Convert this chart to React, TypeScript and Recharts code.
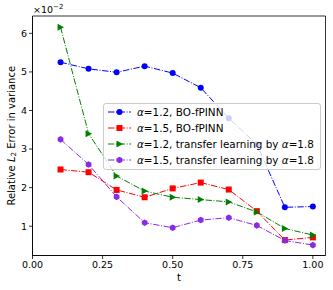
import { Label, Legend, Line, LineChart, ReferenceArea, XAxis, YAxis } from "recharts";

const FONT = "'DejaVu Sans', sans-serif";

const tValues = [0.1, 0.2, 0.3, 0.4, 0.5, 0.6, 0.7, 0.8, 0.9, 1.0];
const boAlpha12 = [5.25, 5.08, 4.99, 5.15, 4.97, 4.59, 3.8, 3.12, 1.49, 1.51];
const boAlpha15 = [2.47, 2.4, 1.94, 1.75, 1.98, 2.13, 1.95, 1.39, 0.64, 0.71];
const tlAlpha12 = [6.16, 3.4, 2.3, 1.91, 1.75, 1.69, 1.63, 1.37, 0.94, 0.77];
const tlAlpha15 = [3.25, 2.6, 1.76, 1.09, 0.96, 1.16, 1.22, 1.02, 0.63, 0.51];

const xTicks = [0, 0.25, 0.5, 0.75, 1.0];
const yTicks = [1, 2, 3, 4, 5, 6];

type Marker = "circle" | "square" | "triangle" | "hexagon";

const series: { key: string; color: string; marker: Marker; alpha: string; method: string }[] = [
  { key: "boAlpha12", color: "#0000ff", marker: "circle", alpha: "1.2", method: "BO-fPINN" },
  { key: "boAlpha15", color: "#ff0000", marker: "square", alpha: "1.5", method: "BO-fPINN" },
  { key: "tlAlpha12", color: "#008000", marker: "triangle", alpha: "1.2", method: "transfer learning by " },
  { key: "tlAlpha15", color: "#8a2be2", marker: "hexagon", alpha: "1.5", method: "transfer learning by " },
];

const data = tValues.map((t, i) => ({
  t,
  boAlpha12: boAlpha12[i],
  boAlpha15: boAlpha15[i],
  tlAlpha12: tlAlpha12[i],
  tlAlpha15: tlAlpha15[i],
}));

const markerShape = (marker: Marker, cx: number, cy: number, color: string, key?: string) => {
  if (marker === "circle") return <circle key={key} cx={cx} cy={cy} r={3} fill={color} />;
  if (marker === "square") return <rect key={key} x={cx - 3} y={cy - 3} width={6} height={6} fill={color} />;
  if (marker === "triangle")
    return <polygon key={key} points={`${cx + 3.5},${cy} ${cx - 3},${cy - 3.5} ${cx - 3},${cy + 3.5}`} fill={color} />;
  const pts = [0, 1, 2, 3, 4, 5]
    .map((k) => {
      const a = (Math.PI / 3) * k - Math.PI / 2;
      return `${cx + 3.3 * Math.cos(a)},${cy + 3.3 * Math.sin(a)}`;
    })
    .join(" ");
  return <polygon key={key} points={pts} fill={color} />;
};

const dotFor = (marker: Marker, color: string) => (props: any) => {
  const { cx, cy, index } = props;
  if (cx == null || cy == null) return <g key={`d-${index}`} />;
  return markerShape(marker, cx, cy, color, `d-${index}`);
};

const YTitle = (props: any) => {
  const { x, y, height } = props.viewBox;
  return (
    <text
      transform={`translate(${x + 11},${y + height / 2}) rotate(-90)`}
      textAnchor="middle"
      dominantBaseline="central"
      fontFamily={FONT}
      fontSize={10}
      fill="#000"
    >
      Relative <tspan fontStyle="italic">L</tspan>
      <tspan fontSize={7} dy={2.5}>2</tspan>
      <tspan dy={-2.5}> Error in variance</tspan>
    </text>
  );
};

const OffsetText = (props: any) => {
  const { x, y, width } = props.viewBox;
  return (
    <text x={x + width + 0.5} y={y - 3} fontFamily={FONT} fontSize={9.5} fill="#000">
      ×10<tspan fontSize={7} dy={-4}>−2</tspan>
    </text>
  );
};

const XTitle = (props: any) => {
  const { x, y, width } = props.viewBox;
  return (
    <text x={x + width / 2} y={y + 25.5} textAnchor="middle" fontFamily={FONT} fontSize={10} fill="#000">
      t
    </text>
  );
};

const LegendBox = () => (
  <div
    style={{
      background: "rgba(255,255,255,0.8)",
      border: "1px solid #cccccc",
      borderRadius: 3,
      boxSizing: "border-box",
      width: 218,
      height: 67,
      fontFamily: FONT,
      fontSize: 10.4,
      color: "#000",
    }}
  >
    {series.map((s) => (
      <div key={s.key} style={{ display: "flex", alignItems: "center", height: 16 }}>
        <svg width={33} height={16} style={{ flex: "none" }}>
          <line x1={4} x2={27} y1={8} y2={8} stroke={s.color} strokeWidth={1} strokeDasharray="6.4 1.6 1 1.6" />
          {markerShape(s.marker, 15.5, 8, s.color)}
        </svg>
        <span style={{ whiteSpace: "nowrap" }}>
          <i>α</i>={s.alpha}, {s.method}
          {s.method.startsWith("transfer") ? (
            <>
              <i>α</i>=1.8
            </>
          ) : null}
        </span>
      </div>
    ))}
  </div>
);

export default function App() {
  return (
    <div>
      <style>{"body{margin:0}"}</style>
      <LineChart
        width={333}
        height={290}
        data={data}
        margin={{ top: 16, right: 7.5, bottom: 0, left: 0 }}
        style={{ fontFamily: FONT }}
      >
        <XAxis
          dataKey="t"
          type="number"
          domain={[0, 1.045]}
          ticks={xTicks}
          tickFormatter={(v: number) => v.toFixed(2)}
          tickSize={3.5}
          tickMargin={2}
          height={34.5}
          stroke="#000"
          strokeWidth={0.8}
          tick={{ fill: "#000", fontSize: 9.5, fontFamily: FONT }}
          allowDataOverflow
          interval={0}
        >
          <Label content={XTitle} />
        </XAxis>
        <YAxis
          type="number"
          domain={[0.24, 6.45]}
          ticks={yTicks}
          tickSize={3.5}
          tickMargin={2}
          width={32.5}
          stroke="#000"
          strokeWidth={0.8}
          tick={{ fill: "#000", fontSize: 9.5, fontFamily: FONT }}
          allowDataOverflow
          interval={0}
        >
          <Label content={YTitle} />
          <Label content={OffsetText} />
        </YAxis>
        <ReferenceArea x1={0} x2={1.045} y1={0.24} y2={6.45} fill="none" stroke="#000" strokeWidth={0.8} ifOverflow="visible" />
        {series.map((s) => (
          <Line
            key={s.key}
            dataKey={s.key}
            stroke={s.color}
            strokeWidth={1}
            strokeDasharray="6.4 1.6 1 1.6"
            dot={dotFor(s.marker, s.color)}
            activeDot={false}
            connectNulls
            isAnimationActive={false}
          />
        ))}
        <Legend
          layout="vertical"
          align="center"
          verticalAlign="middle"
          content={LegendBox}
          wrapperStyle={{ left: 103, top: 102.5, width: 218 }}
        />
      </LineChart>
    </div>
  );
}
